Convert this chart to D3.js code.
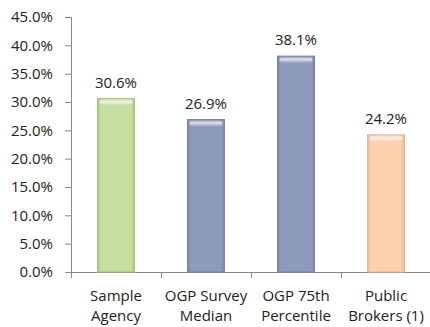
<!DOCTYPE html>
<html><head><meta charset="utf-8">
<script src="https://cdn.jsdelivr.net/npm/d3@7"></script>
<style>body{margin:0;background:#fff}svg{display:block}text{font-family:"Open Sans",Lato,sans-serif;fill:#222}</style>
</head><body><div id="c"></div>
<script>
const categories = [["Sample","Agency"],["OGP Survey","Median"],["OGP 75th","Percentile"],["Public","Brokers (1)"]];
const values = [30.6, 26.9, 38.1, 24.2];
const valueLabels = ["30.6%","26.9%","38.1%","24.2%"];
const yTicks = [0,5,10,15,20,25,30,35,40,45];
const fills = ["#c5df9e","#8f9bbb","#8f9bbb","#fdd0b0"];
const strokes = ["#a3bf74","#737f9e","#737f9e","#e6b292"];

const W=430,H=327, m={l:71,r:-1,t:17,b:55};
const FS="15px";
const svg=d3.select("#c").append("svg").attr("width",W).attr("height",H);
const x=d3.scaleBand().domain(d3.range(categories.length)).range([m.l,W-m.r]).paddingInner(0.59).paddingOuter(0.295);
const xAxisScale=d3.scaleBand().domain(d3.range(categories.length)).range([m.l,W-m.r]);
const y=d3.scaleLinear().domain([0,45]).range([H-m.b,m.t]);

const defs=svg.append("defs");
fills.forEach((f,i)=>{
  const g=defs.append("linearGradient").attr("id","g"+i).attr("x1",0).attr("x2",1).attr("y1",0).attr("y2",0);
  const c=d3.color(f);
  g.append("stop").attr("offset","0").attr("stop-color",c.darker(0.3));
  g.append("stop").attr("offset","0.1").attr("stop-color",f);
  g.append("stop").attr("offset","0.9").attr("stop-color",f);
  g.append("stop").attr("offset","1").attr("stop-color",c.darker(0.3));
  const t=defs.append("linearGradient").attr("id","t"+i).attr("x1",0).attr("x2",0).attr("y1",0).attr("y2",1);
  t.append("stop").attr("offset","0").attr("stop-color","#fff").attr("stop-opacity",0.2);
  t.append("stop").attr("offset","0.4").attr("stop-color","#fff").attr("stop-opacity",0.7);
  t.append("stop").attr("offset","1").attr("stop-color","#fff").attr("stop-opacity",0);
});

// y axis
const ya=svg.append("g").attr("transform",`translate(${m.l},0)`).call(d3.axisLeft(y).tickValues(yTicks).tickSize(6).tickPadding(12).tickFormat(d=>d.toFixed(1)+"%"));
ya.select(".domain").attr("stroke","#888").attr("d",`M-6,${y(45)+0.5}H0.5V${y(0)+0.5}`);
ya.selectAll(".tick line").attr("stroke","#888");
ya.selectAll("text").style("font-size",FS).attr("fill","#222");

// x axis
const xa=svg.append("g").attr("transform",`translate(0,${y(0)})`);
xa.append("line").attr("x1",m.l).attr("x2",W).attr("y1",0.5).attr("y2",0.5).attr("stroke","#888");
xa.selectAll(".tk").data(d3.range(categories.length+1)).join("line")
  .attr("x1",d=>Math.round(m.l+d*xAxisScale.step())+0.5).attr("x2",d=>Math.round(m.l+d*xAxisScale.step())+0.5)
  .attr("y1",0).attr("y2",6).attr("stroke","#888");
categories.forEach((c,i)=>{
  const t=xa.append("text").attr("text-anchor","middle").style("font-size",FS)
    .attr("x",xAxisScale(i)+xAxisScale.bandwidth()/2).attr("y",29);
  c.forEach((l,j)=>t.append("tspan").attr("x",xAxisScale(i)+xAxisScale.bandwidth()/2).attr("dy",j?20:0).text(l));
});

// bars
const bars=svg.append("g");
values.forEach((v,i)=>{
  bars.append("rect").attr("x",x(i)).attr("y",y(v)).attr("width",x.bandwidth()).attr("height",y(0)-y(v))
    .attr("fill",`url(#g${i})`).attr("stroke",strokes[i]).attr("stroke-width",1);
  bars.append("rect").attr("x",x(i)+2).attr("y",y(v)+1).attr("width",x.bandwidth()-4).attr("height",6)
    .attr("fill",`url(#t${i})`).attr("rx",2);
  svg.append("text").attr("text-anchor","middle").style("font-size",FS)
    .attr("x",x(i)+x.bandwidth()/2).attr("y",y(v)-11).text(valueLabels[i]);
});
</script></body></html>
